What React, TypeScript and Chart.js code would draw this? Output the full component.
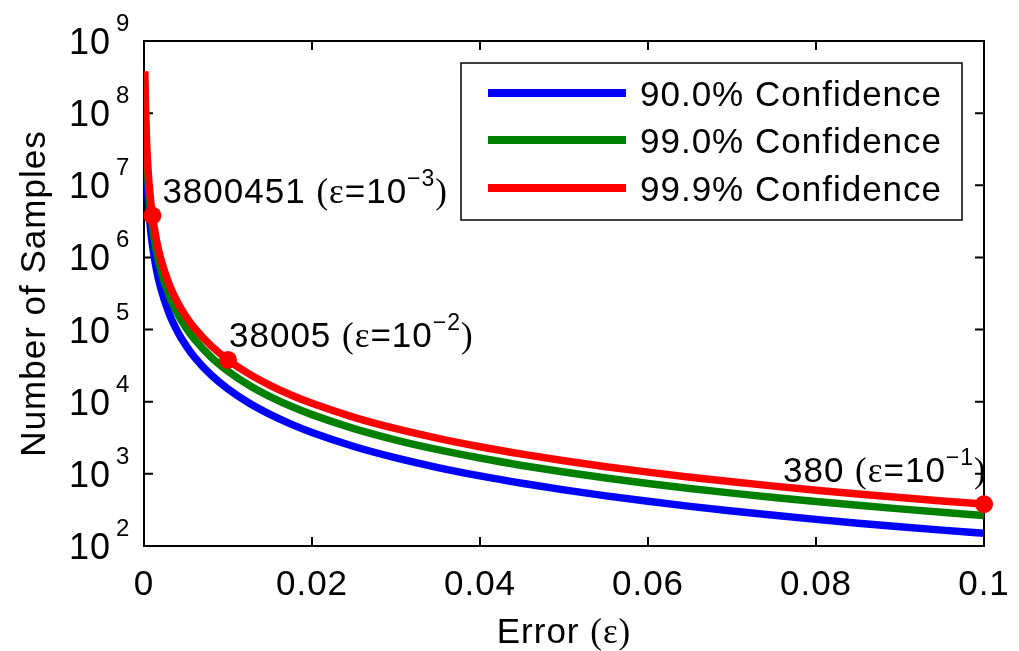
import React, { useEffect, useRef } from "react";
import { Chart, registerables } from "chart.js";

Chart.register(...registerables);

// ---------- data ----------
const epsilon = [
  0.0001, 0.00015, 0.0002, 0.0003, 0.0004, 0.0005, 0.0007, 0.001, 0.0015, 0.002,
  0.003, 0.004, 0.005, 0.006, 0.008, 0.01, 0.0125, 0.015, 0.0175, 0.02,
  0.025, 0.03, 0.035, 0.04, 0.045, 0.05, 0.055, 0.06, 0.065, 0.07,
  0.075, 0.08, 0.085, 0.09, 0.095, 0.1,
];
const samples90 = [
  1.498e8, 6.657e7, 3.745e7, 1.664e7, 9.362e6, 5.991e6, 3.057e6, 1.498e6, 6.657e5, 3.745e5,
  1.664e5, 93617, 59915, 41608, 23404, 14979, 9586, 6657, 4891, 3745,
  2397, 1664, 1223, 936.2, 739.7, 599.1, 495.2, 416.1, 354.5, 305.7,
  266.3, 234.0, 207.3, 184.9, 166.0, 149.8,
];
const samples99 = [
  2.649e8, 1.1774e8, 6.623e7, 2.943e7, 1.6557e7, 1.0597e7, 5.407e6, 2.649e6, 1.1774e6, 6.623e5,
  2.943e5, 1.6557e5, 1.0597e5, 73588, 41393, 26492, 16955, 11774, 8650, 6623,
  4239, 2943, 2163, 1656, 1308, 1060, 875.8, 735.9, 627.0, 540.6,
  471.0, 413.9, 366.7, 327.1, 293.5, 264.9,
];
const samples999 = [
  3.8e8, 1.689e8, 9.5e7, 4.223e7, 2.375e7, 1.52e7, 7.756e6, 3.8e6, 1.689e6, 9.501e5,
  4.223e5, 2.375e5, 1.52e5, 1.0557e5, 59382, 38005, 24323, 16891, 12410, 9501,
  6081, 4223, 3102, 2375, 1877, 1520, 1256, 1056, 899.5, 775.6,
  675.6, 593.8, 526.0, 469.2, 421.1, 380.0,
];
const seriesLabels = ["90.0% Confidence", "99.0% Confidence", "99.9% Confidence"];
const seriesColors = ["#0000ff", "#008000", "#ff0000"];

const markerEps = [0.001, 0.01, 0.1];
const markerSamples = [3800451, 38005, 380];
const markerText = ["3800451", "38005", "380"];
const markerExp = ["\u22123", "\u22122", "\u22121"];

const xTicks = [0, 0.02, 0.04, 0.06, 0.08, 0.1];
const xTickLabels = ["0", "0.02", "0.04", "0.06", "0.08", "0.1"];
const yTickExps = [2, 3, 4, 5, 6, 7, 8, 9];

const xTitleMain = "Error ";
const xTitleSym = "(\u03b5)";
const yTitle = "Number of Samples";

// ---------- layout / style ----------
const W = 1019;
const H = 651;
const SANS = '"Liberation Sans", Arial, Helvetica, sans-serif';
const SERIF = '"Liberation Serif", "Times New Roman", serif';
const annotOffsets = [
  [10, -13],
  [1, -13],
  [-201, -22],
];

type Seg = { text: string; font: string; dy?: number };

function drawRich(ctx: CanvasRenderingContext2D, x: number, y: number, segs: Seg[]) {
  let cx = x;
  for (const s of segs) {
    ctx.font = s.font;
    ctx.fillText(s.text, cx, y + (s.dy || 0));
    cx += ctx.measureText(s.text).width;
  }
  return cx;
}
function richWidth(ctx: CanvasRenderingContext2D, segs: Seg[]) {
  let w = 0;
  for (const s of segs) {
    ctx.font = s.font;
    w += ctx.measureText(s.text).width;
  }
  return w;
}

const framePlugin = {
  id: "matlabFrame",
  beforeDatasetsDraw(chart: any) {
    const ctx: CanvasRenderingContext2D = chart.ctx;
    const { left, right, top, bottom } = chart.chartArea;
    const xs = chart.scales.x;
    const ys = chart.scales.y;
    ctx.save();
    ctx.strokeStyle = "#000";
    ctx.lineWidth = 2;
    ctx.strokeRect(left, top, right - left, bottom - top);
    ctx.beginPath();
    for (const v of xTicks) {
      const px = xs.getPixelForValue(v);
      ctx.moveTo(px, bottom);
      ctx.lineTo(px, bottom - 9);
      ctx.moveTo(px, top);
      ctx.lineTo(px, top + 9);
    }
    for (const e of yTickExps) {
      const py = ys.getPixelForValue(Math.pow(10, e));
      ctx.moveTo(left, py);
      ctx.lineTo(left + 9, py);
      ctx.moveTo(right, py);
      ctx.lineTo(right - 9, py);
    }
    ctx.stroke();
    ctx.restore();
  },
  afterDraw(chart: any) {
    const ctx: CanvasRenderingContext2D = chart.ctx;
    const { left, right, top, bottom } = chart.chartArea;
    const xs = chart.scales.x;
    const ys = chart.scales.y;
    ctx.save();
    ctx.fillStyle = "#000";
    (ctx as any).letterSpacing = "1px";

    // x tick labels
    ctx.font = `35px ${SANS}`;
    ctx.textAlign = "center";
    ctx.textBaseline = "alphabetic";
    xTicks.forEach((v, i) => {
      ctx.fillText(xTickLabels[i], xs.getPixelForValue(v), bottom + 49);
    });

    // y tick labels 10^k
    yTickExps.forEach((e) => {
      const py = ys.getPixelForValue(Math.pow(10, e));
      ctx.textAlign = "right";
      ctx.font = `36px ${SANS}`;
      ctx.fillText("10", left - 33, py + 13);
      ctx.textAlign = "left";
      ctx.font = `24px ${SANS}`;
      ctx.fillText(String(e), left - 28, py - 10);
    });

    // y title
    ctx.save();
    ctx.translate(45, (top + bottom) / 2);
    ctx.rotate(-Math.PI / 2);
    ctx.textAlign = "center";
    ctx.font = `35px ${SANS}`;
    ctx.fillText(yTitle, 0, 0);
    ctx.restore();

    // x title
    ctx.textAlign = "left";
    const xt: Seg[] = [
      { text: xTitleMain, font: `35px ${SANS}` },
      { text: xTitleSym, font: `35px ${SERIF}` },
    ];
    const xw = richWidth(ctx, xt);
    drawRich(ctx, (left + right) / 2 - xw / 2, 643, xt);

    // annotations
    markerEps.forEach((v, i) => {
      const px = xs.getPixelForValue(v) + annotOffsets[i][0];
      const py = ys.getPixelForValue(markerSamples[i]) + annotOffsets[i][1];
      drawRich(ctx, px, py, [
        { text: markerText[i] + " ", font: `35px ${SANS}` },
        { text: "(\u03b5", font: `35px ${SERIF}` },
        { text: "=10", font: `35px ${SANS}` },
        { text: markerExp[i], font: `23px ${SANS}`, dy: -17 },
        { text: ")", font: `35px ${SERIF}` },
      ]);
    });

    // legend
    const lx = 461, ly = 63, lw = 501, lh = 157;
    ctx.fillStyle = "#fff";
    ctx.fillRect(lx, ly, lw, lh);
    ctx.strokeStyle = "#000";
    ctx.lineWidth = 1.5;
    ctx.strokeRect(lx, ly, lw, lh);
    const rows = [93, 140, 188];
    seriesLabels.forEach((lab, i) => {
      ctx.strokeStyle = seriesColors[i];
      ctx.lineWidth = 8;
      ctx.lineCap = "butt";
      ctx.beginPath();
      ctx.moveTo(488, rows[i]);
      ctx.lineTo(626, rows[i]);
      ctx.stroke();
      ctx.fillStyle = "#000";
      ctx.font = `35px ${SANS}`;
      ctx.textAlign = "left";
      ctx.fillText(lab, 640, rows[i] + 13);
    });
    ctx.restore();
  },
};

export default function App() {
  const ref = useRef<HTMLCanvasElement | null>(null);
  useEffect(() => {
    if (!ref.current) return;
    const mk = (vals: number[]) => epsilon.map((x, i) => ({ x, y: vals[i] }));
    const lineDs = (vals: number[], i: number, order: number) => ({
      label: seriesLabels[i],
      data: mk(vals),
      borderColor: seriesColors[i],
      backgroundColor: seriesColors[i],
      borderWidth: 7.5,
      pointRadius: 0,
      fill: false,
      cubicInterpolationMode: "monotone" as const,
      borderCapStyle: "butt" as const,
      borderJoinStyle: "round" as const,
      order,
    });
    const chart = new Chart(ref.current, {
      type: "line",
      data: {
        datasets: [
          {
            label: "markers",
            data: markerEps.map((x, i) => ({ x, y: markerSamples[i] })),
            showLine: false,
            pointRadius: 9,
            pointBorderWidth: 0,
            pointBackgroundColor: "#ff0000",
            borderColor: "#ff0000",
            backgroundColor: "#ff0000",
            clip: false as any,
            order: 0,
          },
          lineDs(samples999, 2, 1),
          lineDs(samples99, 1, 2),
          lineDs(samples90, 0, 3),
        ],
      },
      options: {
        responsive: false,
        animation: false,
        events: [],
        layout: { padding: { left: 0, right: 35, top: 41, bottom: 0 } },
        plugins: { legend: { display: false }, tooltip: { enabled: false }, title: { display: false } },
        scales: {
          x: {
            type: "linear",
            min: 0,
            max: 0.1,
            grid: { display: false },
            border: { display: false },
            ticks: { display: false },
            afterFit: (s: any) => {
              s.height = 105;
            },
          },
          y: {
            type: "logarithmic",
            min: 100,
            max: 1e9,
            grid: { display: false },
            border: { display: false },
            ticks: { display: false },
            afterFit: (s: any) => {
              s.width = 144;
            },
          },
        },
      },
      plugins: [framePlugin],
    });
    return () => chart.destroy();
  }, []);
  return (
    <div style={{ position: "absolute", left: 0, top: 0, width: W, height: H, background: "#fff" }}>
      <canvas ref={ref} width={W} height={H} style={{ display: "block" }} />
    </div>
  );
}
